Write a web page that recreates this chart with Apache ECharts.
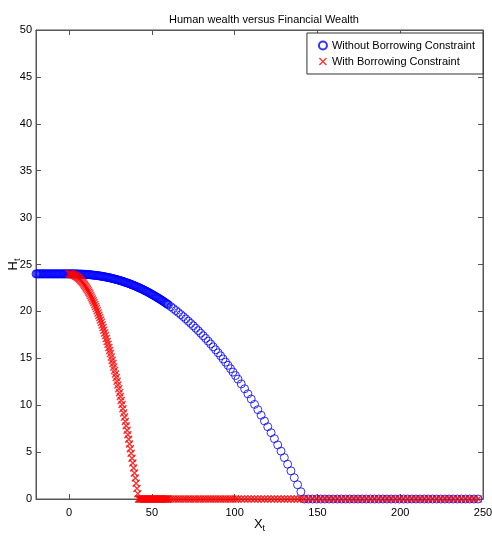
<!DOCTYPE html>
<html>
<head>
<meta charset="utf-8">
<title>Human wealth versus Financial Wealth</title>
<script src="https://cdn.jsdelivr.net/npm/echarts@6.0.0/dist/echarts.min.js"></script>
<style>
  html, body { margin: 0; padding: 0; background: #fff; }
  #chart { width: 492px; height: 542px; }
</style>
</head>
<body>
<div id="chart"></div>
<script>
// financial wealth X_t
var xFreeHead = [
  -20, -19.5, -19, -18.5, -18, -17.5, -17, -16.5, -16, -15.5, -15, -14.5, -14, -13.5, -13, -12.5, -12, -11.5, -11, -10.5,
  -10, -9.5, -9, -8.5, -8, -7.5, -7, -6.5, -6, -5.5, -5, -4.5, -4, -3.5, -3, -2.5, -2, -1.5, -1, -0.5,
  0, 0.5, 1, 1.5, 2, 2.5, 3, 3.5, 4, 4.5, 5, 5.5, 6, 6.5, 7, 7.5, 8, 8.5, 9, 9.5,
  10, 10.5, 11, 11.5, 12, 12.5, 13, 13.5, 14, 14.5, 15, 15.5, 16, 16.5, 17, 17.5, 18, 18.5, 19, 19.5,
  20, 20.5, 21, 21.5, 22, 22.5, 23, 23.5, 24, 24.5, 25, 25.5, 26, 26.5, 27, 27.5, 28, 28.5, 29, 29.5,
  30, 30.5, 31, 31.5, 32, 32.5, 33, 33.5, 34, 34.5, 35, 35.5, 36, 36.5, 37, 37.5, 38, 38.5, 39, 39.5,
  40, 40.5, 41, 41.5, 42, 42.5, 43, 43.5, 44, 44.5, 45, 45.5, 46, 46.5, 47, 47.5, 48, 48.5, 49, 49.5,
  50, 50.5, 51, 51.5, 52, 52.5, 53, 53.5, 54, 54.5, 55, 55.5, 56, 56.5, 57, 57.5, 58, 58.5, 59, 59.5, 60
];
var xConstrainedHead = [
  0, 0.5, 1, 1.5, 2, 2.5, 3, 3.5, 4, 4.5, 5, 5.5, 6, 6.5, 7, 7.5, 8, 8.5, 9, 9.5,
  10, 10.5, 11, 11.5, 12, 12.5, 13, 13.5, 14, 14.5, 15, 15.5, 16, 16.5, 17, 17.5, 18, 18.5, 19, 19.5,
  20, 20.5, 21, 21.5, 22, 22.5, 23, 23.5, 24, 24.5, 25, 25.5, 26, 26.5, 27, 27.5, 28, 28.5, 29, 29.5,
  30, 30.5, 31, 31.5, 32, 32.5, 33, 33.5, 34, 34.5, 35, 35.5, 36, 36.5, 37, 37.5, 38, 38.5, 39, 39.5,
  40, 40.5, 41, 41.5, 42, 42.5, 43, 43.5, 44, 44.5, 45, 45.5, 46, 46.5, 47, 47.5, 48, 48.5, 49, 49.5,
  50, 50.5, 51, 51.5, 52, 52.5, 53, 53.5, 54, 54.5, 55, 55.5, 56, 56.5, 57, 57.5, 58, 58.5, 59, 59.5, 60
];
var xTail = [
  61.5, 63, 64.5, 66, 67.5, 69, 70.5, 72, 73.5, 75, 76.5, 78, 79.5, 81, 82.5, 84, 85.5, 87, 88.5, 90,
  91.5, 93, 94.5, 96, 97.5, 99, 100.5,
  102, 104, 106, 108, 110, 112, 114, 116, 118, 120, 122, 124, 126, 128, 130, 132, 134, 136, 138, 140, 142,
  144.5, 147, 149.5, 152, 154.5, 157, 159.5, 162, 164.5, 167, 169.5, 172, 174.5, 177, 179.5, 182, 184.5, 187, 189.5, 192,
  194.5, 197, 199.5, 202, 204.5, 207, 209.5, 212, 214.5, 217, 219.5, 222, 224.5, 227, 229.5, 232, 234.5, 237, 239.5, 242,
  244.5, 247
];

// human wealth H_t without borrowing constraint
var hFree = [
  24, 24, 24, 24, 24, 24, 24, 24, 24, 24, 24, 24, 24, 24, 24, 24, 24, 24, 24, 24,
  24, 24, 24, 24, 24, 24, 24, 24, 24, 24, 24, 24, 24, 24, 24, 24, 24, 24, 24, 24,
  24, 24.00, 24.00, 24.00, 24.00, 24.00, 24.00, 24.00, 23.99, 23.99, 23.99, 23.99, 23.98, 23.98, 23.98, 23.97, 23.97, 23.96, 23.96, 23.95,
  23.95, 23.94, 23.93, 23.93, 23.92, 23.91, 23.90, 23.89, 23.88, 23.87, 23.86, 23.85, 23.84, 23.83, 23.82, 23.81, 23.79, 23.78, 23.77, 23.75,
  23.74, 23.72, 23.70, 23.69, 23.67, 23.65, 23.64, 23.62, 23.60, 23.58, 23.56, 23.54, 23.52, 23.49, 23.47, 23.45, 23.43, 23.40, 23.38, 23.35,
  23.33, 23.30, 23.28, 23.25, 23.22, 23.19, 23.16, 23.13, 23.10, 23.07, 23.04, 23.01, 22.98, 22.95, 22.91, 22.88, 22.84, 22.81, 22.77, 22.73,
  22.70, 22.66, 22.62, 22.58, 22.54, 22.50, 22.46, 22.42, 22.38, 22.34, 22.29, 22.25, 22.20, 22.16, 22.11, 22.07, 22.02, 21.97, 21.92, 21.87,
  21.82, 21.77, 21.72, 21.67, 21.62, 21.57, 21.51, 21.46, 21.40, 21.35, 21.29, 21.24, 21.18, 21.12, 21.06, 21.00, 20.94, 20.88, 20.82, 20.76, 20.69,
  20.50, 20.30, 20.09, 19.88, 19.66, 19.44, 19.20, 18.96, 18.72, 18.47, 18.21, 17.95, 17.68, 17.40, 17.12, 16.83, 16.53, 16.22, 15.91, 15.59,
  15.27, 14.93, 14.59, 14.25, 13.89, 13.53, 13.16,
  12.78, 12.27, 11.75, 11.21, 10.66, 10.09, 9.52, 8.93, 8.32, 7.70, 7.07, 6.43, 5.77, 5.10, 4.41, 3.71, 3.00, 2.27, 1.52, 0.77, 0,
  0, 0, 0, 0, 0, 0, 0, 0, 0, 0, 0, 0, 0, 0, 0, 0, 0, 0, 0, 0,
  0, 0, 0, 0, 0, 0, 0, 0, 0, 0, 0, 0, 0, 0, 0, 0, 0, 0, 0, 0,
  0, 0
];

// human wealth H_t with borrowing constraint
var hConstrained = [
  24, 24.00, 23.99, 23.97, 23.95, 23.91, 23.88, 23.83, 23.78, 23.72, 23.66, 23.59, 23.51, 23.43, 23.33, 23.23, 23.13, 23.02, 22.90, 22.77,
  22.64, 22.50, 22.35, 22.20, 22.04, 21.87, 21.70, 21.52, 21.33, 21.14, 20.94, 20.73, 20.52, 20.30, 20.07, 19.83, 19.59, 19.34, 19.09, 18.83,
  18.56, 18.28, 18.00, 17.71, 17.42, 17.11, 16.80, 16.49, 16.16, 15.83, 15.50, 15.15, 14.80, 14.45, 14.08, 13.71, 13.33, 12.95, 12.56, 12.16,
  11.76, 11.34, 10.93, 10.50, 10.07, 9.63, 9.18, 8.73, 8.27, 7.81, 7.33, 6.85, 6.37, 5.87, 5.37, 4.87, 4.35, 3.83, 3.31, 2.77,
  2.23, 1.68, 1.13, 0.57, 0, 0, 0, 0, 0, 0, 0, 0, 0, 0, 0, 0, 0, 0, 0, 0,
  0, 0, 0, 0, 0, 0, 0, 0, 0, 0, 0, 0, 0, 0, 0, 0, 0, 0, 0, 0, 0,
  0, 0, 0, 0, 0, 0, 0, 0, 0, 0, 0, 0, 0, 0, 0, 0, 0, 0, 0, 0,
  0, 0, 0, 0, 0, 0, 0,
  0, 0, 0, 0, 0, 0, 0, 0, 0, 0, 0, 0, 0, 0, 0, 0, 0, 0, 0, 0, 0,
  0, 0, 0, 0, 0, 0, 0, 0, 0, 0, 0, 0, 0, 0, 0, 0, 0, 0, 0, 0,
  0, 0, 0, 0, 0, 0, 0, 0, 0, 0, 0, 0, 0, 0, 0, 0, 0, 0, 0, 0,
  0, 0
];

var xTicks = [0, 50, 100, 150, 200, 250];
var seriesNames = ['Without Borrowing Constraint', 'With Borrowing Constraint'];

function pairUp(xs, hs) {
  return xs.map(function (x, i) { return [x, hs[i]]; });
}

var font = 'Liberation Sans, Arial, sans-serif';
var crossPath = 'path://M0,1.2L1.2,0L5,3.8L8.8,0L10,1.2L6.2,5L10,8.8L8.8,10L5,6.2L1.2,10L0,8.8L3.8,5Z';

var chart = echarts.init(document.getElementById('chart'), null, { renderer: 'canvas' });

var tickStyle = { show: true, inside: true, length: 5, lineStyle: { color: '#555' } };
var lineStyle = { show: true, onZero: false, lineStyle: { color: '#555', width: 1 } };
var subRich = {
  b: { fontSize: 13, fontFamily: font, color: '#000' },
  s: { fontSize: 9, fontFamily: font, color: '#000', padding: [9, 0, 0, 0] }
};

var option = {
  animation: false,
  backgroundColor: '#fff',
  textStyle: { fontFamily: font },
  title: {
    text: 'Human wealth versus Financial Wealth',
    left: 259, top: 9, textAlign: 'center',
    textStyle: { fontSize: 11, fontWeight: 'normal', color: '#000', fontFamily: font }
  },
  legend: {
    data: seriesNames,
    orient: 'vertical',
    right: 9, top: 33,
    backgroundColor: '#fff',
    borderColor: '#333', borderWidth: 1, borderRadius: 0,
    padding: [7, 8, 7, 11],
    itemGap: 5, itemWidth: 8, itemHeight: 8,
    textStyle: { fontSize: 11, color: '#000', fontFamily: font }
  },
  grid: {
    left: 36, right: 9, top: 30, bottom: 43,
    containLabel: false, outerBoundsMode: 'none',
    show: true, borderColor: '#555', borderWidth: 1
  },
  xAxis: [
    {
      type: 'value', min: -20, max: 250,
      name: '{b|X}{s|t}', nameLocation: 'middle', nameGap: 16, nameMoveOverlap: false,
      nameTextStyle: { rich: subRich },
      axisLine: lineStyle,
      axisTick: Object.assign({ customValues: xTicks }, tickStyle),
      axisLabel: { customValues: xTicks, color: '#000', fontSize: 11, margin: 8, fontFamily: font },
      splitLine: { show: false }
    },
    {
      type: 'value', min: -20, max: 250, position: 'top',
      axisLine: lineStyle,
      axisTick: Object.assign({ customValues: xTicks }, tickStyle),
      axisLabel: { show: false },
      splitLine: { show: false }
    }
  ],
  yAxis: [
    {
      type: 'value', min: 0, max: 50, interval: 5,
      name: '{b|H}{s|t}', nameLocation: 'middle', nameGap: 14, nameRotate: 90, nameMoveOverlap: false,
      nameTextStyle: { rich: subRich },
      axisLine: lineStyle,
      axisTick: tickStyle,
      axisLabel: { color: '#000', fontSize: 11, margin: 4, fontFamily: font },
      splitLine: { show: false }
    },
    {
      type: 'value', min: 0, max: 50, interval: 5, position: 'right',
      axisLine: lineStyle,
      axisTick: tickStyle,
      axisLabel: { show: false },
      splitLine: { show: false }
    }
  ],
  series: [
    {
      name: seriesNames[0],
      type: 'scatter',
      symbol: 'circle',
      symbolSize: 8,
      itemStyle: { color: 'rgba(0,0,0,0)', borderColor: '#0000ff', borderWidth: 1 },
      data: pairUp(xFreeHead.concat(xTail), hFree)
    },
    {
      name: seriesNames[1],
      type: 'scatter',
      symbol: crossPath,
      symbolSize: 8,
      itemStyle: { color: '#ff0000' },
      data: pairUp(xConstrainedHead.concat(xTail), hConstrained)
    }
  ]
};
chart.setOption(option);
</script>
</body>
</html>
